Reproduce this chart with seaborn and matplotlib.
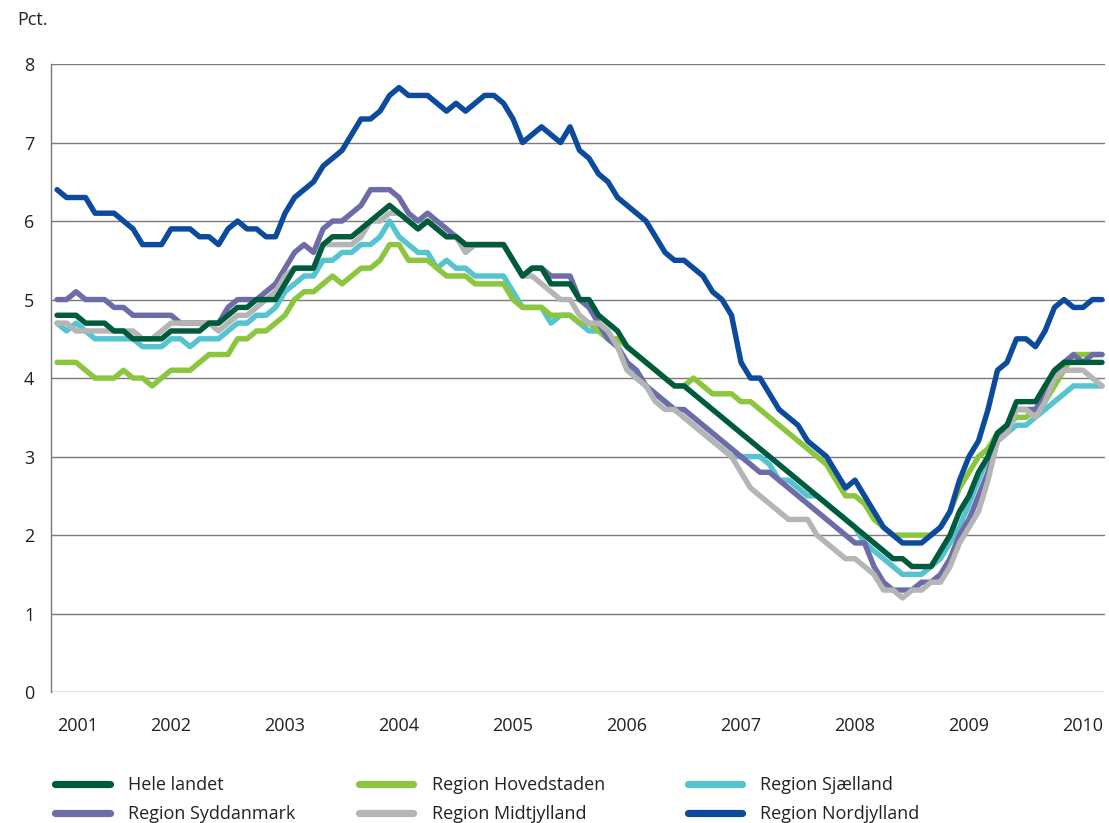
import matplotlib

matplotlib.use("Agg")
import matplotlib.pyplot as plt
import numpy as np
import pandas as pd
import seaborn as sns
from matplotlib.lines import Line2D

# månedlige observationer, juli 2001 - september 2010
START = 2001.5

hele_landet = [
    4.8, 4.8, 4.8, 4.7, 4.7, 4.7, 4.6, 4.6, 4.5, 4.5, 4.5, 4.5,
    4.6, 4.6, 4.6, 4.6, 4.7, 4.7, 4.8, 4.9, 4.9, 5.0, 5.0, 5.0,
    5.2, 5.4, 5.4, 5.4, 5.7, 5.8, 5.8, 5.8, 5.9, 6.0, 6.1, 6.2,
    6.1, 6.0, 5.9, 6.0, 5.9, 5.8, 5.8, 5.7, 5.7, 5.7, 5.7, 5.7,
    5.5, 5.3, 5.4, 5.4, 5.2, 5.2, 5.2, 5.0, 5.0, 4.8, 4.7, 4.6,
    4.4, 4.3, 4.2, 4.1, 4.0, 3.9, 3.9, 3.8, 3.7, 3.6, 3.5, 3.4,
    3.3, 3.2, 3.1, 3.0, 2.9, 2.8, 2.7, 2.6, 2.5, 2.4, 2.3, 2.2,
    2.1, 2.0, 1.9, 1.8, 1.7, 1.7, 1.6, 1.6, 1.6, 1.8, 2.0, 2.3,
    2.5, 2.8, 3.0, 3.3, 3.4, 3.7, 3.7, 3.7, 3.9, 4.1, 4.2, 4.2, 4.2, 4.2, 4.2,
]
hovedstaden = [
    4.2, 4.2, 4.2, 4.1, 4.0, 4.0, 4.0, 4.1, 4.0, 4.0, 3.9, 4.0,
    4.1, 4.1, 4.1, 4.2, 4.3, 4.3, 4.3, 4.5, 4.5, 4.6, 4.6, 4.7,
    4.8, 5.0, 5.1, 5.1, 5.2, 5.3, 5.2, 5.3, 5.4, 5.4, 5.5, 5.7,
    5.7, 5.5, 5.5, 5.5, 5.4, 5.3, 5.3, 5.3, 5.2, 5.2, 5.2, 5.2,
    5.0, 4.9, 4.9, 4.9, 4.8, 4.8, 4.8, 4.7, 4.7, 4.6, 4.5, 4.5,
    4.4, 4.3, 4.2, 4.1, 4.0, 3.9, 3.9, 4.0, 3.9, 3.8, 3.8, 3.8,
    3.7, 3.7, 3.6, 3.5, 3.4, 3.3, 3.2, 3.1, 3.0, 2.9, 2.7, 2.5,
    2.5, 2.4, 2.2, 2.1, 2.0, 2.0, 2.0, 2.0, 2.0, 2.1, 2.3, 2.6,
    2.8, 3.0, 3.1, 3.3, 3.4, 3.5, 3.5, 3.6, 3.7, 3.9, 4.1, 4.3, 4.3, 4.3, 4.3,
]
sjaelland = [
    4.7, 4.6, 4.7, 4.6, 4.5, 4.5, 4.5, 4.5, 4.5, 4.4, 4.4, 4.4,
    4.5, 4.5, 4.4, 4.5, 4.5, 4.5, 4.6, 4.7, 4.7, 4.8, 4.8, 4.9,
    5.1, 5.2, 5.3, 5.3, 5.5, 5.5, 5.6, 5.6, 5.7, 5.7, 5.8, 6.0,
    5.8, 5.7, 5.6, 5.6, 5.4, 5.5, 5.4, 5.4, 5.3, 5.3, 5.3, 5.3,
    5.1, 4.9, 4.9, 4.9, 4.7, 4.8, 4.8, 4.7, 4.6, 4.6, 4.5, 4.4,
    4.2, 4.0, 3.9, 3.8, 3.7, 3.6, 3.5, 3.4, 3.3, 3.2, 3.1, 3.0,
    3.0, 3.0, 3.0, 2.9, 2.7, 2.7, 2.6, 2.5, 2.5, 2.4, 2.3, 2.2,
    2.1, 1.9, 1.8, 1.7, 1.6, 1.5, 1.5, 1.5, 1.6, 1.7, 1.9, 2.1,
    2.4, 2.7, 3.0, 3.2, 3.3, 3.4, 3.4, 3.5, 3.6, 3.7, 3.8, 3.9, 3.9, 3.9, 3.9,
]
syddanmark = [
    5.0, 5.0, 5.1, 5.0, 5.0, 5.0, 4.9, 4.9, 4.8, 4.8, 4.8, 4.8,
    4.8, 4.7, 4.7, 4.7, 4.7, 4.7, 4.9, 5.0, 5.0, 5.0, 5.1, 5.2,
    5.4, 5.6, 5.7, 5.6, 5.9, 6.0, 6.0, 6.1, 6.2, 6.4, 6.4, 6.4,
    6.3, 6.1, 6.0, 6.1, 6.0, 5.9, 5.8, 5.7, 5.7, 5.7, 5.7, 5.7,
    5.5, 5.3, 5.4, 5.4, 5.3, 5.3, 5.3, 5.0, 4.9, 4.7, 4.5, 4.4,
    4.2, 4.1, 3.9, 3.8, 3.7, 3.6, 3.6, 3.5, 3.4, 3.3, 3.2, 3.1,
    3.0, 2.9, 2.8, 2.8, 2.7, 2.6, 2.5, 2.4, 2.3, 2.2, 2.1, 2.0,
    1.9, 1.9, 1.6, 1.4, 1.3, 1.3, 1.3, 1.4, 1.4, 1.5, 1.7, 2.0,
    2.2, 2.5, 2.8, 3.2, 3.4, 3.6, 3.6, 3.6, 3.8, 4.0, 4.2, 4.3, 4.2, 4.3, 4.3,
]
midtjylland = [
    4.7, 4.7, 4.6, 4.6, 4.6, 4.6, 4.6, 4.6, 4.6, 4.5, 4.5, 4.6,
    4.7, 4.7, 4.7, 4.7, 4.7, 4.6, 4.7, 4.8, 4.8, 4.9, 5.0, 5.1,
    5.3, 5.4, 5.4, 5.4, 5.7, 5.7, 5.7, 5.7, 5.8, 6.0, 6.0, 6.1,
    6.1, 6.0, 5.9, 6.0, 5.9, 5.8, 5.8, 5.6, 5.7, 5.7, 5.7, 5.7,
    5.5, 5.3, 5.3, 5.2, 5.1, 5.0, 5.0, 4.8, 4.7, 4.7, 4.6, 4.4,
    4.1, 4.0, 3.9, 3.7, 3.6, 3.6, 3.5, 3.4, 3.3, 3.2, 3.1, 3.0,
    2.8, 2.6, 2.5, 2.4, 2.3, 2.2, 2.2, 2.2, 2.0, 1.9, 1.8, 1.7,
    1.7, 1.6, 1.5, 1.3, 1.3, 1.2, 1.3, 1.3, 1.4, 1.4, 1.6, 1.9,
    2.1, 2.3, 2.7, 3.2, 3.3, 3.6, 3.6, 3.5, 3.7, 4.0, 4.1, 4.1, 4.1, 4.0, 3.9,
]
nordjylland = [
    6.4, 6.3, 6.3, 6.3, 6.1, 6.1, 6.1, 6.0, 5.9, 5.7, 5.7, 5.7,
    5.9, 5.9, 5.9, 5.8, 5.8, 5.7, 5.9, 6.0, 5.9, 5.9, 5.8, 5.8,
    6.1, 6.3, 6.4, 6.5, 6.7, 6.8, 6.9, 7.1, 7.3, 7.3, 7.4, 7.6,
    7.7, 7.6, 7.6, 7.6, 7.5, 7.4, 7.5, 7.4, 7.5, 7.6, 7.6, 7.5,
    7.3, 7.0, 7.1, 7.2, 7.1, 7.0, 7.2, 6.9, 6.8, 6.6, 6.5, 6.3,
    6.2, 6.1, 6.0, 5.8, 5.6, 5.5, 5.5, 5.4, 5.3, 5.1, 5.0, 4.8,
    4.2, 4.0, 4.0, 3.8, 3.6, 3.5, 3.4, 3.2, 3.1, 3.0, 2.8, 2.6,
    2.7, 2.5, 2.3, 2.1, 2.0, 1.9, 1.9, 1.9, 2.0, 2.1, 2.3, 2.7,
    3.0, 3.2, 3.6, 4.1, 4.2, 4.5, 4.5, 4.4, 4.6, 4.9, 5.0, 4.9, 4.9, 5.0, 5.0,
]

legend_order = [
    "Hele landet", "Region Syddanmark", "Region Hovedstaden",
    "Region Midtjylland", "Region Sjælland", "Region Nordjylland",
]
# tegnerækkefølge (nederst først)
draw_order = [
    "Region Sjælland", "Region Hovedstaden", "Region Syddanmark",
    "Region Midtjylland", "Hele landet", "Region Nordjylland",
]
values = {
    "Hele landet": hele_landet,
    "Region Syddanmark": syddanmark,
    "Region Hovedstaden": hovedstaden,
    "Region Midtjylland": midtjylland,
    "Region Sjælland": sjaelland,
    "Region Nordjylland": nordjylland,
}
colors = {
    "Hele landet": "#005a3c",
    "Region Syddanmark": "#6d6ba8",
    "Region Hovedstaden": "#8cc63f",
    "Region Midtjylland": "#b5b5b5",
    "Region Sjælland": "#55c4d0",
    "Region Nordjylland": "#0b4a9c",
}
year_labels = [str(y) for y in range(2001, 2011)]
year_ticks = [2001.68] + [y + 0.5 for y in range(2002, 2011)]

frames = []
for name, vals in values.items():
    assert len(vals) == 111, name
    frames.append(pd.DataFrame({
        "tid": START + np.arange(len(vals)) / 12,
        "pct": vals,
        "region": name,
    }))
df = pd.concat(frames, ignore_index=True)

sns.set_theme(style="white")
plt.rcParams["font.family"] = ["Open Sans", "DejaVu Sans"]
TEXT = "#222222"

fig = plt.figure(figsize=(11.09, 8.23), dpi=100)
ax = fig.add_axes([0.046, 0.159, 0.9504, 0.7632])

sns.lineplot(
    data=df, x="tid", y="pct", hue="region", hue_order=draw_order,
    palette=colors, linewidth=3.9, legend=False, ax=ax,
    solid_joinstyle="round", solid_capstyle="round",
)

ax.set_xlim(2001.447, 2010.693)
ax.set_ylim(0, 8)
ax.set_yticks(range(0, 9))
ax.set_xticks(year_ticks)
ax.set_xticklabels(year_labels)
ax.set_xlabel("")
ax.set_ylabel("")
ax.yaxis.grid(True, color="#7a7a7a", linewidth=1.0)
ax.xaxis.grid(False)
ax.set_axisbelow(True)
for side in ["top", "right", "bottom"]:
    ax.spines[side].set_visible(False)
ax.spines["left"].set_color("#7a7a7a")
ax.spines["left"].set_linewidth(1.0)
ax.tick_params(axis="y", length=0, pad=12, labelsize=13, labelcolor=TEXT)
ax.tick_params(axis="x", length=0, pad=18, labelsize=13, labelcolor=TEXT)

fig.text(0.016, 0.976, "Pct.", fontsize=13, color=TEXT, ha="left", va="center")

# legende i tre faste kolonner under figuren
col_x = [0.050, 0.324, 0.620]
for k, x0 in enumerate(col_x):
    names = legend_order[2 * k: 2 * k + 2]
    handles = [
        Line2D([0], [0], color=colors[n], linewidth=5.2, solid_capstyle="round")
        for n in names
    ]
    fig.legend(
        handles, names, loc="upper left", bbox_to_anchor=(x0, 0.057),
        frameon=False, fontsize=13, handlelength=3.0, handletextpad=1.0,
        labelspacing=0.62, borderpad=0, borderaxespad=0,
        labelcolor=TEXT,
    )

fig.savefig("out.png", dpi=100, facecolor="white")
